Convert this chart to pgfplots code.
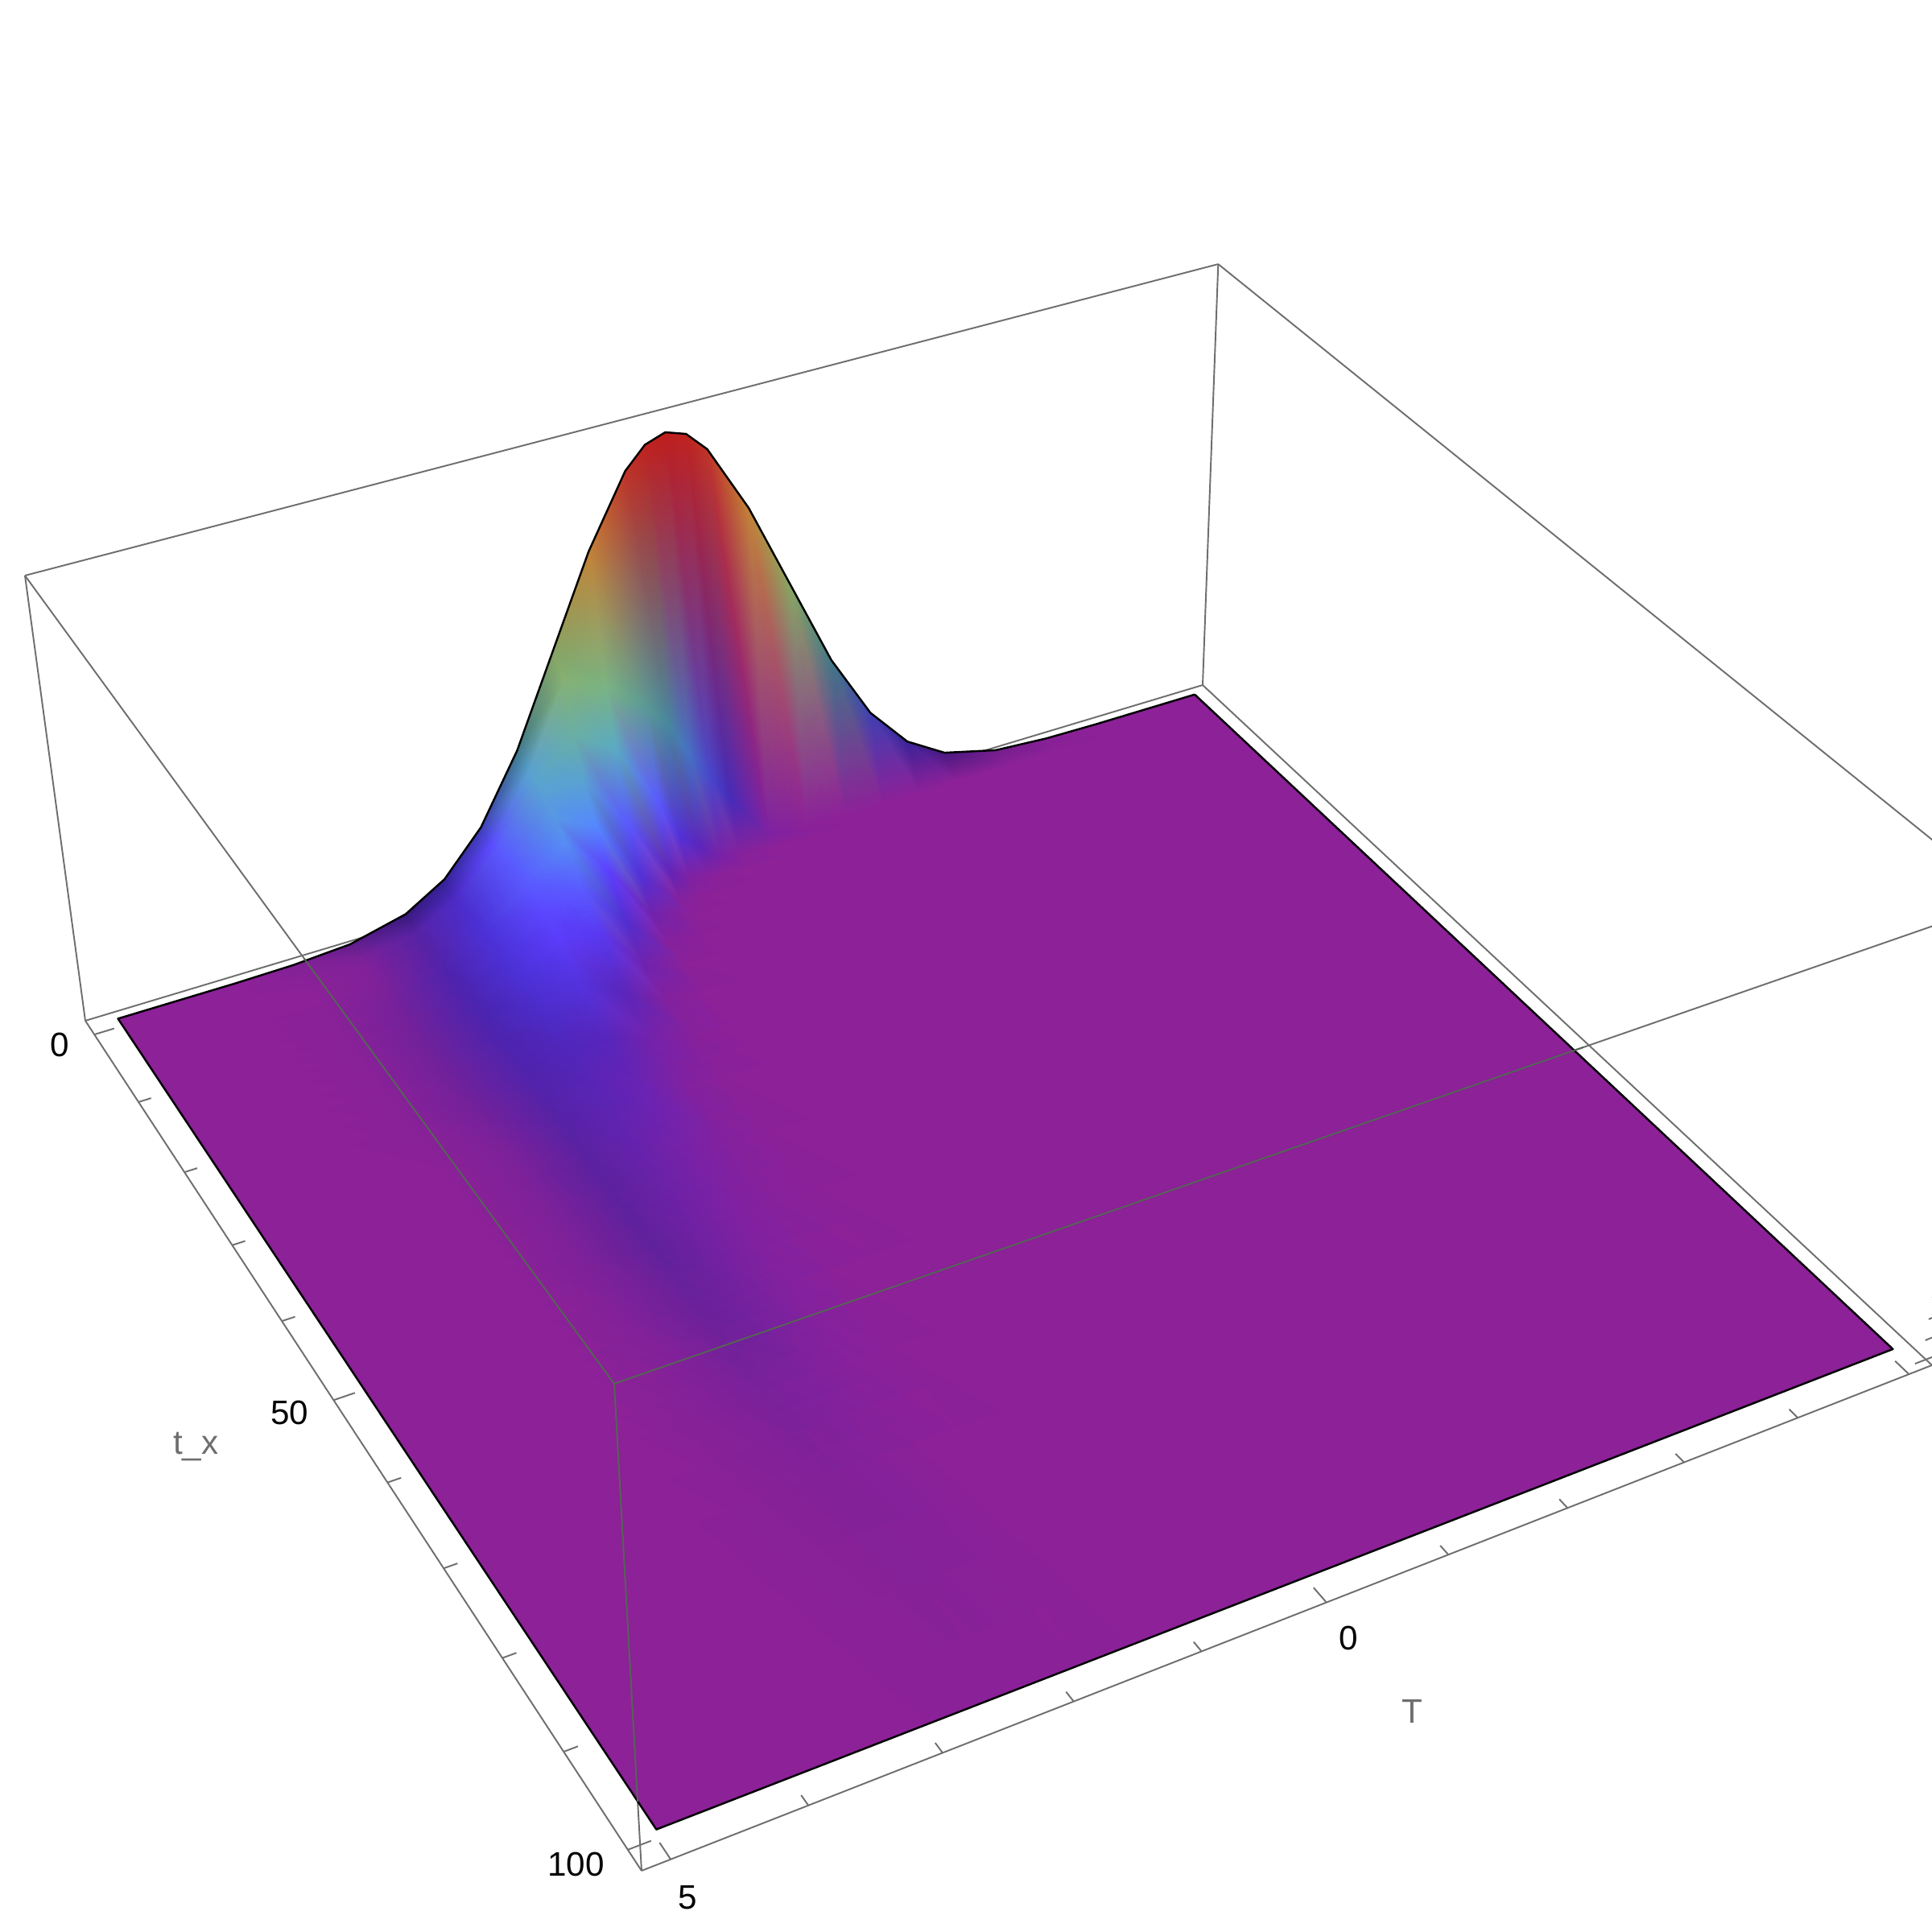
\documentclass[border=0pt]{standalone}
\usepackage{fontspec}
\setmainfont{Liberation Sans}
\usepackage{pgfplots}
\usepackage{pgfplotstable}
\pgfplotsset{compat=1.18}

% z is normalised to the peak; one row per t_x, T running far side to near side
\pgfplotstableread[row sep=\\]{
T t z\\
-5 0 0\\ -4 0 0\\ -3.5 0 .002\\ -3 0 .011\\ -2.5 0 .044\\ -2.14 0 .101\\ -1.79 0 .201\\ -1.43 0 .360\\ -1.07 0 .564\\ -.71 0 .777\\ -.36 0 .937\\ -.18 0 .984\\ 0 0 1\\ .18 0 .984\\ .36 0 .937\\ .71 0 .777\\ 1.07 0 .564\\ 1.43 0 .360\\ 1.79 0 .201\\ 2.14 0 .101\\ 2.5 0 .044\\ 3 0 .011\\ 3.5 0 .002\\ 4 0 0\\ 5 0 0\\
-5 2 0\\ -4 2 0\\ -3.5 2 0\\ -3 2 0\\ -2.5 2 0\\ -2.14 2 0\\ -1.79 2 0\\ -1.43 2 0\\ -1.07 2 .001\\ -.71 2 .015\\ -.36 2 .13\\ -.18 2 .2\\ 0 2 .27\\ .18 2 .36\\ .36 2 .41\\ .71 2 .49\\ 1.07 2 .53\\ 1.43 2 .33\\ 1.79 2 .184\\ 2.14 2 .081\\ 2.5 2 .028\\ 3 2 .005\\ 3.5 2 .001\\ 4 2 0\\ 5 2 0\\
-5 3.5 0\\ -4 3.5 0\\ -3.5 3.5 0\\ -3 3.5 0\\ -2.5 3.5 0\\ -2.14 3.5 0\\ -1.79 3.5 0\\ -1.43 3.5 0\\ -1.07 3.5 0\\ -.71 3.5 0\\ -.36 3.5 .006\\ -.18 3.5 .023\\ 0 3.5 .06\\ .18 3.5 .1\\ .36 3.5 .2\\ .71 3.5 .36\\ 1.07 3.5 .42\\ 1.43 3.5 .34\\ 1.79 3.5 .2\\ 2.14 3.5 .091\\ 2.5 3.5 .03\\ 3 3.5 .004\\ 3.5 3.5 0\\ 4 3.5 0\\ 5 3.5 0\\
-5 5 0\\ -4 5 0\\ -3.5 5 0\\ -3 5 0\\ -2.5 5 0\\ -2.14 5 0\\ -1.79 5 0\\ -1.43 5 0\\ -1.07 5 0\\ -.71 5 0\\ -.36 5 0\\ -.18 5 .001\\ 0 5 .004\\ .18 5 .015\\ .36 5 .05\\ .71 5 .2\\ 1.07 5 .33\\ 1.43 5 .32\\ 1.79 5 .2\\ 2.14 5 .094\\ 2.5 5 .031\\ 3 5 .004\\ 3.5 5 0\\ 4 5 0\\ 5 5 0\\
-5 7 0\\ -4 7 0\\ -3.5 7 0\\ -3 7 0\\ -2.5 7 0\\ -2.14 7 0\\ -1.79 7 0\\ -1.43 7 0\\ -1.07 7 0\\ -.71 7 0\\ -.36 7 0\\ -.18 7 0\\ 0 7 0\\ .18 7 .001\\ .36 7 .007\\ .71 7 .1\\ 1.07 7 .25\\ 1.43 7 .3\\ 1.79 7 .2\\ 2.14 7 .102\\ 2.5 7 .037\\ 3 7 .005\\ 3.5 7 .001\\ 4 7 0\\ 5 7 0\\
-5 9 0\\ -4 9 0\\ -3.5 9 0\\ -3 9 0\\ -2.5 9 0\\ -2.14 9 0\\ -1.79 9 0\\ -1.43 9 0\\ -1.07 9 0\\ -.71 9 0\\ -.36 9 0\\ -.18 9 0\\ 0 9 0\\ .18 9 0\\ .36 9 .001\\ .71 9 .03\\ 1.07 9 .17\\ 1.43 9 .27\\ 1.79 9 .2\\ 2.14 9 .112\\ 2.5 9 .043\\ 3 9 .007\\ 3.5 9 .001\\ 4 9 0\\ 5 9 0\\
-5 12 0\\ -4 12 0\\ -3.5 12 0\\ -3 12 0\\ -2.5 12 0\\ -2.14 12 0\\ -1.79 12 0\\ -1.43 12 0\\ -1.07 12 0\\ -.71 12 0\\ -.36 12 0\\ -.18 12 0\\ 0 12 0\\ .18 12 0\\ .36 12 0\\ .71 12 .007\\ 1.07 12 .09\\ 1.43 12 .2\\ 1.79 12 .18\\ 2.14 12 .11\\ 2.5 12 .047\\ 3 12 .008\\ 3.5 12 .001\\ 4 12 0\\ 5 12 0\\
-5 15 0\\ -4 15 0\\ -3.5 15 0\\ -3 15 0\\ -2.5 15 0\\ -2.14 15 0\\ -1.79 15 0\\ -1.43 15 0\\ -1.07 15 0\\ -.71 15 0\\ -.36 15 0\\ -.18 15 0\\ 0 15 0\\ .18 15 0\\ .36 15 0\\ .71 15 .002\\ 1.07 15 .034\\ 1.43 15 .144\\ 1.79 15 .161\\ 2.14 15 .109\\ 2.5 15 .05\\ 3 15 .009\\ 3.5 15 .001\\ 4 15 0\\ 5 15 0\\
-5 19 0\\ -4 19 0\\ -3.5 19 0\\ -3 19 0\\ -2.5 19 0\\ -2.14 19 0\\ -1.79 19 0\\ -1.43 19 0\\ -1.07 19 0\\ -.71 19 0\\ -.36 19 0\\ -.18 19 0\\ 0 19 0\\ .18 19 0\\ .36 19 0\\ .71 19 0\\ 1.07 19 .011\\ 1.43 19 .061\\ 1.79 19 .11\\ 2.14 19 .09\\ 2.5 19 .047\\ 3 19 .009\\ 3.5 19 .001\\ 4 19 0\\ 5 19 0\\
-5 24 0\\ -4 24 0\\ -3.5 24 0\\ -3 24 0\\ -2.5 24 0\\ -2.14 24 0\\ -1.79 24 0\\ -1.43 24 0\\ -1.07 24 0\\ -.71 24 0\\ -.36 24 0\\ -.18 24 0\\ 0 24 0\\ .18 24 0\\ .36 24 0\\ .71 24 0\\ 1.07 24 .005\\ 1.43 24 .027\\ 1.79 24 .064\\ 2.14 24 .065\\ 2.5 24 .039\\ 3 24 .008\\ 3.5 24 .001\\ 4 24 0\\ 5 24 0\\
-5 30 0\\ -4 30 0\\ -3.5 30 0\\ -3 30 0\\ -2.5 30 0\\ -2.14 30 0\\ -1.79 30 0\\ -1.43 30 0\\ -1.07 30 0\\ -.71 30 0\\ -.36 30 0\\ -.18 30 0\\ 0 30 0\\ .18 30 0\\ .36 30 0\\ .71 30 0\\ 1.07 30 .001\\ 1.43 30 .012\\ 1.79 30 .039\\ 2.14 30 .049\\ 2.5 30 .03\\ 3 30 .005\\ 3.5 30 0\\ 4 30 0\\ 5 30 0\\
-5 38 0\\ -4 38 0\\ -3.5 38 0\\ -3 38 0\\ -2.5 38 0\\ -2.14 38 0\\ -1.79 38 0\\ -1.43 38 0\\ -1.07 38 0\\ -.71 38 0\\ -.36 38 0\\ -.18 38 0\\ 0 38 0\\ .18 38 0\\ .36 38 0\\ .71 38 0\\ 1.07 38 .001\\ 1.43 38 .008\\ 1.79 38 .022\\ 2.14 38 .03\\ 2.5 38 .021\\ 3 38 .005\\ 3.5 38 0\\ 4 38 0\\ 5 38 0\\
-5 46 0\\ -4 46 0\\ -3.5 46 0\\ -3 46 0\\ -2.5 46 0\\ -2.14 46 0\\ -1.79 46 0\\ -1.43 46 0\\ -1.07 46 0\\ -.71 46 0\\ -.36 46 0\\ -.18 46 0\\ 0 46 0\\ .18 46 0\\ .36 46 0\\ .71 46 0\\ 1.07 46 .001\\ 1.43 46 .005\\ 1.79 46 .015\\ 2.14 46 .02\\ 2.5 46 .016\\ 3 46 .005\\ 3.5 46 0\\ 4 46 0\\ 5 46 0\\
-5 55 0\\ -4 55 0\\ -3.5 55 0\\ -3 55 0\\ -2.5 55 0\\ -2.14 55 0\\ -1.79 55 0\\ -1.43 55 0\\ -1.07 55 0\\ -.71 55 0\\ -.36 55 0\\ -.18 55 0\\ 0 55 0\\ .18 55 0\\ .36 55 0\\ .71 55 0\\ 1.07 55 0\\ 1.43 55 .002\\ 1.79 55 .009\\ 2.14 55 .014\\ 2.5 55 .011\\ 3 55 .003\\ 3.5 55 0\\ 4 55 0\\ 5 55 0\\
-5 65 0\\ -4 65 0\\ -3.5 65 0\\ -3 65 0\\ -2.5 65 0\\ -2.14 65 0\\ -1.79 65 0\\ -1.43 65 0\\ -1.07 65 0\\ -.71 65 0\\ -.36 65 0\\ -.18 65 0\\ 0 65 0\\ .18 65 0\\ .36 65 0\\ .71 65 0\\ 1.07 65 0\\ 1.43 65 .001\\ 1.79 65 .005\\ 2.14 65 .008\\ 2.5 65 .006\\ 3 65 .002\\ 3.5 65 0\\ 4 65 0\\ 5 65 0\\
-5 75 0\\ -4 75 0\\ -3.5 75 0\\ -3 75 0\\ -2.5 75 0\\ -2.14 75 0\\ -1.79 75 0\\ -1.43 75 0\\ -1.07 75 0\\ -.71 75 0\\ -.36 75 0\\ -.18 75 0\\ 0 75 0\\ .18 75 0\\ .36 75 0\\ .71 75 0\\ 1.07 75 0\\ 1.43 75 0\\ 1.79 75 .002\\ 2.14 75 .004\\ 2.5 75 .003\\ 3 75 .001\\ 3.5 75 0\\ 4 75 0\\ 5 75 0\\
-5 100 0\\ -4 100 0\\ -3.5 100 0\\ -3 100 0\\ -2.5 100 0\\ -2.14 100 0\\ -1.79 100 0\\ -1.43 100 0\\ -1.07 100 0\\ -.71 100 0\\ -.36 100 0\\ -.18 100 0\\ 0 100 0\\ .18 100 0\\ .36 100 0\\ .71 100 0\\ 1.07 100 0\\ 1.43 100 0\\ 1.79 100 0\\ 2.14 100 0\\ 2.5 100 0\\ 3 100 0\\ 3.5 100 0\\ 4 100 0\\ 5 100 0\\
}\surfdata

% outline of the surface
\pgfplotstableread[row sep=\\]{
T t z\\
-5 0 0\\ -4 0 0\\ -3.5 0 .002\\ -3 0 .011\\ -2.5 0 .044\\ -2.14 0 .101\\ -1.79 0 .201\\ -1.43 0 .360\\ -.71 0 .777\\ -.36 0 .937\\ -.18 0 .984\\ 0 0 1\\ .18 0 .984\\ .36 0 .937\\ .71 0 .777\\ 1.43 0 .360\\ 1.79 0 .201\\ 2.14 0 .101\\ 2.5 0 .044\\ 3 0 .011\\ 3.5 0 .002\\ 4 0 0\\ 5 0 0\\ 5 100 0\\ -5 100 0\\ -5 0 0\\
}\edgedata

\definecolor{boxgray}{RGB}{110,110,110}
\definecolor{boxover}{RGB}{85,100,85}

% perspective camera, fitted to the corners of the box
\tikzset{declare function={
  nx(\Ta,\tb,\zc)=888.09-148.4*\Ta+5.1504*\tb-73.92*\zc;
  ny(\Ta,\tb,\zc)=1104.57+31.40*\Ta+5.8128*\tb-575.52*\zc;
  dn(\Ta,\tb,\zc)=1.047648-0.010142*\Ta-0.0018608*\tb-0.0624*\zc;
  lin(\zc,\pa,\pb)=max(0,min(1,(\zc-\pa)/(\pb-\pa)));
  rr(\zc)=(140-18*lin(\zc,0,.02)-17*lin(\zc,.02,.04)-20*lin(\zc,.04,.07)-3*lin(\zc,.07,.1)+10*lin(\zc,.1,.17)-7*lin(\zc,.17,.25)+5*lin(\zc,.25,.36)+35*lin(\zc,.36,.5)+40*lin(\zc,.5,.65)+30*lin(\zc,.65,.78)-5*lin(\zc,.78,.94))/255;
  gg(\zc)=(33+2*lin(\zc,.02,.04)+3*lin(\zc,.04,.07)+10*lin(\zc,.07,.1)+14*lin(\zc,.1,.17)+73*lin(\zc,.17,.25)+35*lin(\zc,.25,.36)+10*lin(\zc,.36,.5)-15*lin(\zc,.5,.65)-35*lin(\zc,.65,.78)-80*lin(\zc,.78,.94)-20*lin(\zc,.94,1))/255;
  bb(\zc)=(152+13*lin(\zc,0,.02)+15*lin(\zc,.02,.04)+10*lin(\zc,.04,.07)+25*lin(\zc,.07,.1)+40*lin(\zc,.1,.17)-60*lin(\zc,.25,.36)-70*lin(\zc,.36,.5)-45*lin(\zc,.5,.65)-25*lin(\zc,.65,.78)-15*lin(\zc,.78,.94)-10*lin(\zc,.94,1))/255;
  % the back edge faces away from the light, and so do the steep face and the far flank of the tail
  edgeshade(\zc,\tb)=(\tb==0)?(1-.3*(1-lin(\zc,.4,.6))*lin(\zc,0,.03)):1;
  faceshade(\Ta,\tb,\zc)=(\tb==2)?(1-.2*(1-lin(\Ta,.2,.6))*lin(\zc,.02,.1)):1;
  flank(\Ta,\zc)=lin(\Ta,1.95,2.5)*lin(\zc,0,.015);
}}

% vertex colour column, from the height
\pgfplotstablecreatecol[create col/assign/.code={%
  \getthisrow{z}\zv \getthisrow{t}\tv \getthisrow{T}\Tv
  \pgfmathsetmacro\shade{edgeshade(\zv,\tv)*faceshade(\Tv,\tv,\zv)}%
  \pgfmathsetmacro\colr{rr(\zv)*\shade*(1-.24*flank(\Tv,\zv))}%
  \pgfmathsetmacro\colg{gg(\zv)*\shade}%
  \pgfmathsetmacro\colb{bb(\zv)*\shade*(1-.04*flank(\Tv,\zv))}%
  \edef\entry{rgb=\colr,\colg,\colb}%
  \pgfkeyslet{/pgfplots/table/create col/next content}\entry}]{c}\surfdata

\pgfplotsset{table/proj/.style={
  x expr={nx(\thisrow{T},\thisrow{t},\thisrow{z})/dn(\thisrow{T},\thisrow{t},\thisrow{z})},
  y expr={ny(\thisrow{T},\thisrow{t},\thisrow{z})/dn(\thisrow{T},\thisrow{t},\thisrow{z})}}}

\newcommand\seg[7]{\addplot[#1,line width=.55pt,no marks] table[row sep=\\,proj]{T t z\\ #2 #3 #4\\ #5 #6 #7\\};}
\newcommand\lab[4][black]{\node[text=#1,font=\fontsize{12}{14}\selectfont,anchor=#2] at (axis cs:#3) {#4};}

\begin{document}
\begin{tikzpicture}
\useasboundingbox (0,0) rectangle (24cm,24cm);
\begin{axis}[
  at={(0,0)},anchor=south west,
  scale only axis,width=24cm,height=24cm,
  xmin=0,xmax=2400,ymin=0,ymax=2400,y dir=reverse,
  hide axis,clip=true]

% box edges behind the surface
\seg{boxgray}{5.2083}{-2.0833}{-.0208}{-5.2083}{-2.0833}{-.0208}
\seg{boxgray}{-5.2083}{-2.0833}{-.0208}{-5.2083}{102.083}{-.0208}
\seg{boxgray}{5.2083}{-2.0833}{-.0208}{5.2083}{102.083}{-.0208}
\seg{boxgray}{5.2083}{102.083}{-.0208}{-5.2083}{102.083}{-.0208}
\seg{boxgray}{5.2083}{-2.0833}{-.0208}{5.2083}{-2.0833}{1.0208}
\seg{boxgray}{-5.2083}{-2.0833}{-.0208}{-5.2083}{-2.0833}{1.0208}
\seg{boxgray}{5.2083}{102.083}{-.0208}{5.2083}{102.083}{1.0208}
\seg{boxgray}{5.2083}{-2.0833}{1.0208}{-5.2083}{-2.0833}{1.0208}
\seg{boxgray}{-5.2083}{-2.0833}{1.0208}{-5.2083}{102.083}{1.0208}
\seg{boxgray}{5.2083}{-2.0833}{1.0208}{5.2083}{102.083}{1.0208}
\seg{boxgray}{5.2083}{102.083}{1.0208}{-5.2083}{102.083}{1.0208}

% ticks
\pgfplotsinvokeforeach{0,50,100}{\seg{boxgray}{5.2083}{#1}{-.0208}{5.0417}{#1}{-.0208}}
\pgfplotsinvokeforeach{10,20,30,40,60,70,80,90}{\seg{boxgray}{5.2083}{#1}{-.0208}{5.1042}{#1}{-.0208}}
\pgfplotsinvokeforeach{-5,0,5}{\seg{boxgray}{#1}{102.083}{-.0208}{#1}{100.416}{-.0208}}
\pgfplotsinvokeforeach{-4,-3,-2,-1,1,2,3,4}{\seg{boxgray}{#1}{102.083}{-.0208}{#1}{101.04}{-.0208}}
\seg{boxgray}{-5.2083}{102.083}{0}{-5.0417}{102.083}{0}
\pgfplotsinvokeforeach{.05,.1,.15}{\seg{boxgray}{-5.2083}{102.083}{#1}{-5.1042}{102.083}{#1}}

% the surface, vertex colours interpolated in rgb
\addplot[surf,shader=interp,mesh/rows=17,
  mesh/color input=explicit,
  point meta=explicit symbolic]
  table[proj,meta=c] {\surfdata};
\addplot[black,line width=.7pt,line join=round,no marks] table[proj] {\edgedata};

% box edges in front of the surface
\seg{boxover}{5.2083}{53.33}{1.0208}{5.2083}{102.083}{1.0208}
\seg{boxover}{5.2083}{102.083}{1.0208}{-1.74}{102.083}{1.0208}
\seg{boxover}{5.2083}{102.083}{.1385}{5.2083}{102.083}{1.0208}

\lab{center}{74.3,1298}{0}
\lab{center}{360,1755}{50}
\lab{center}{715.7,2316}{100}
\lab{center}{854.7,2356.7}{5}
\lab{center}{1675,2035}{0}
\lab{west}{2392,1752}{−5}
\lab[boxgray]{center}{1754,2126}{T}
\lab[boxgray]{center}{243.3,1796.7}{t\_x}
\end{axis}
\end{tikzpicture}
\end{document}
